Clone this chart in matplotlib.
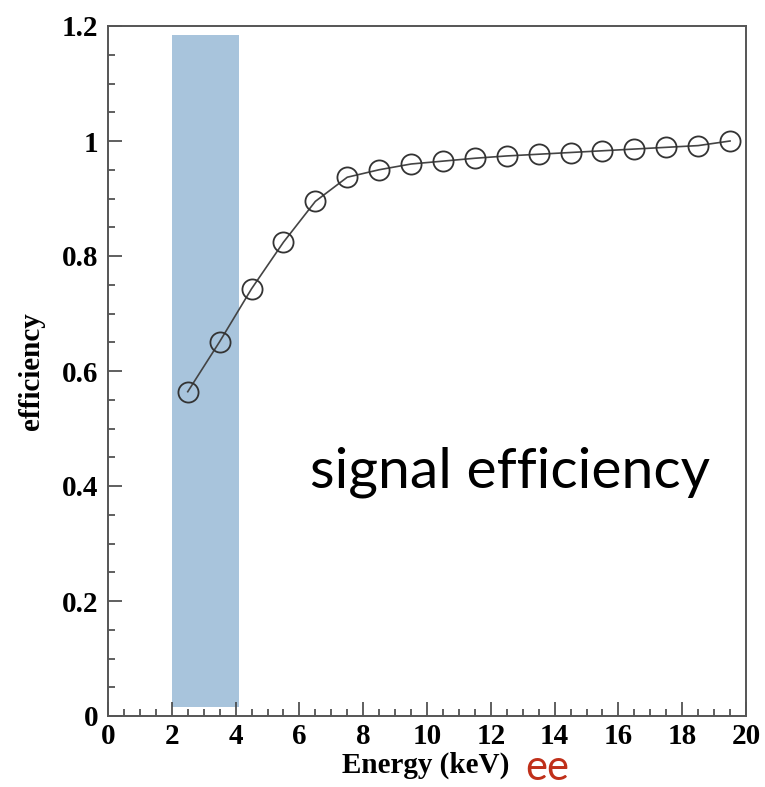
import matplotlib
matplotlib.use("Agg")
import matplotlib.pyplot as plt
from matplotlib.patches import Rectangle
from matplotlib.ticker import MultipleLocator

# data
energy = [2.5, 3.5, 4.5, 5.5, 6.5, 7.5, 8.5, 9.5, 10.5, 11.5, 12.5, 13.5,
          14.5, 15.5, 16.5, 17.5, 18.5, 19.5]
efficiency = [0.564, 0.651, 0.743, 0.824, 0.895, 0.937, 0.950, 0.960, 0.965,
              0.970, 0.974, 0.977, 0.980, 0.983, 0.986, 0.989, 0.992, 1.000]
band_x = [2.0, 4.1]
band_y = [0.015, 1.185]
x_ticks = [0, 2, 4, 6, 8, 10, 12, 14, 16, 18, 20]
y_ticks = [0, 0.2, 0.4, 0.6, 0.8, 1.0, 1.2]
y_ticklabels = ["0", "0.2", "0.4", "0.6", "0.8", "1", "1.2"]

W, H = 765, 787
fig = plt.figure(figsize=(W / 100, H / 100), dpi=100)
ax = fig.add_axes([108 / W, (H - 716) / H, 638 / W, 690 / H])

serif = ["Liberation Serif", "DejaVu Serif"]
sans = ["Lato", "DejaVu Sans"]

ax.add_patch(Rectangle((band_x[0], band_y[0]), band_x[1] - band_x[0],
                       band_y[1] - band_y[0], facecolor="#a8c4dc",
                       edgecolor="none", zorder=1))
ax.plot(energy, efficiency, color="#444444", lw=1.2, marker="o",
        markersize=14.5, markerfacecolor="none", markeredgecolor="#333333",
        markeredgewidth=1.3, zorder=3)

ax.set_xlim(0, 20)
ax.set_ylim(0, 1.2)
ax.set_xticks(x_ticks)
ax.set_xticklabels([str(t) for t in x_ticks])
ax.set_yticks(y_ticks)
ax.set_yticklabels(y_ticklabels)
ax.xaxis.set_minor_locator(MultipleLocator(0.5))
ax.yaxis.set_minor_locator(MultipleLocator(0.05))
ax.tick_params(which="both", direction="in", top=False, right=False,
               color="#444444", width=1.2)
ax.tick_params(which="major", length=10)
ax.tick_params(which="minor", length=5)
ax.tick_params(axis="y", pad=7)
ax.tick_params(axis="x", pad=5)
for lab in ax.get_xticklabels() + ax.get_yticklabels():
    lab.set_fontfamily(serif)
    lab.set_fontweight("bold")
    lab.set_fontsize(21)
for s in ax.spines.values():
    s.set_color("#555555")
    s.set_linewidth(1.4)

fig.text(32 / W, 1 - 371 / H, "efficiency", rotation=90, ha="center",
         va="center", family=serif, weight="bold", fontsize=21)
fig.text(426 / W, 1 - 773 / H, "Energy (keV)", ha="center", va="baseline",
         family=serif, weight="bold", fontsize=21)
fig.text(525 / W, 1 - 780 / H, "ee", ha="left", va="baseline",
         family=sans, fontsize=30, color="#c0301a")
ax.text(6.33, 0.398, "signal efficiency", ha="left", va="baseline",
        family=sans, fontsize=41, color="black")

fig.savefig("out.png", dpi=100)
